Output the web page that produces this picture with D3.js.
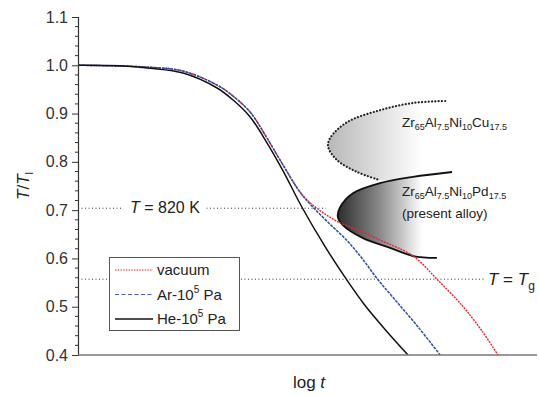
<!DOCTYPE html>
<html><head><meta charset="utf-8">
<script src="https://cdn.jsdelivr.net/npm/d3@7"></script>
<style>body{margin:0;background:#fff}svg{display:block;font-family:"Liberation Sans",Arial,sans-serif}</style>
</head><body><svg id="c" width="539" height="396"></svg>
<script>
// ---- data (x: arbitrary log t units, y: T/Tl) ----
const yTicks = [0.4,0.5,0.6,0.7,0.8,0.9,1.0,1.1];
const heLogT = [0,0.92,1.57,2.29,3.03,3.38,3.75,4.12,4.47,4.88,5.38,5.86,6.25,6.69,7.19];
const heT    = [1.0,0.999,0.994,0.984,0.953,0.928,0.893,0.839,0.781,0.706,0.625,0.555,0.503,0.453,0.40];
const arLogT = [0,1.57,2.29,3.03,3.38,3.75,4.12,4.47,4.84,5.12,5.49,5.86,6.19,6.51,6.91,7.41,7.89];
const arT    = [1.0,0.996,0.988,0.959,0.936,0.903,0.849,0.793,0.737,0.706,0.671,0.637,0.600,0.559,0.514,0.458,0.40];
const vacLogT = [0,1.57,2.29,3.03,3.38,3.75,4.12,4.47,4.84,5.12,5.38,5.66,6.14,6.58,7.30,7.84,8.26,8.47,8.80,9.15];
const vacT    = [1.0,0.996,0.988,0.959,0.936,0.903,0.849,0.793,0.737,0.710,0.692,0.676,0.657,0.638,0.605,0.555,0.514,0.491,0.450,0.40];
const cuLogT = [8.00,7.30,6.58,5.86,5.49,5.45,5.64,6.08,6.58];
const cuT    = [0.926,0.922,0.907,0.882,0.849,0.831,0.804,0.779,0.762];
const pdLogT = [8.15,7.30,6.58,5.99,5.71,5.66,5.77,6.21,6.80,7.30,7.82];
const pdT    = [0.779,0.769,0.756,0.735,0.706,0.686,0.669,0.642,0.622,0.605,0.601];
const T820 = 0.704, Tg = 0.557;
const legendNames = ["vacuum","Ar-10","He-10"];

const svg = d3.select("#c");
const x = d3.scaleLinear().domain([0,10]).range([78,537]);
const y = d3.scaleLinear().domain([0.4,1.1]).range([355,17]);
const zip = (a,b)=>a.map((v,i)=>[v,b[i]]);
const line = d3.line().x(d=>x(d[0])).y(d=>y(d[1])).curve(d3.curveCatmullRom.alpha(0.5));
const region = pts => line(pts) + `L${x(9.5)},${y(pts[pts.length-1][1])}L${x(9.5)},${y(pts[0][1])}Z`;

// gradients
const defs = svg.append("defs");
const gCu = defs.append("linearGradient").attr("id","gcu").attr("gradientUnits","userSpaceOnUse")
  .attr("x1",x(5.45)).attr("x2",x(7.5)).attr("y1",0).attr("y2",0);
gCu.append("stop").attr("offset",0).attr("stop-color","#b8b8b8");
gCu.append("stop").attr("offset",1).attr("stop-color","#ffffff");
const gPd = defs.append("linearGradient").attr("id","gpd").attr("gradientUnits","userSpaceOnUse")
  .attr("x1",x(5.66)).attr("x2",x(7.5)).attr("y1",0).attr("y2",0);
gPd.append("stop").attr("offset",0).attr("stop-color","#2e2e2e");
gPd.append("stop").attr("offset",0.5).attr("stop-color","#8a8a8a");
gPd.append("stop").attr("offset",1).attr("stop-color","#ffffff");

// Cu region
const cu = zip(cuLogT,cuT);
svg.append("path").attr("d",region(cu)).attr("fill","url(#gcu)").attr("stroke","none");
svg.append("path").attr("d",line(cu)).attr("fill","none").attr("stroke","#222")
  .attr("stroke-width",2.2).attr("stroke-dasharray","0.1,3.2").attr("stroke-linecap","round");
// Pd region
const pd = zip(pdLogT,pdT);
svg.append("path").attr("d",region(pd)).attr("fill","url(#gpd)").attr("stroke","none");
svg.append("path").attr("d",line(pd)).attr("fill","none").attr("stroke","#111").attr("stroke-width",1.8);

// reference dotted lines
const ref = svg.append("g").attr("stroke","#333").attr("stroke-width",1).attr("stroke-dasharray","1,2.5");
ref.append("line").attr("x1",x(0)).attr("x2",x(0.95)).attr("y1",y(T820)).attr("y2",y(T820));
ref.append("line").attr("x1",x(2.8)).attr("x2",x(5.4)).attr("y1",y(T820)).attr("y2",y(T820));
ref.append("line").attr("x1",x(0)).attr("x2",x(0.65)).attr("y1",y(Tg)).attr("y2",y(Tg));
ref.append("line").attr("x1",x(3.55)).attr("x2",x(8.85)).attr("y1",y(Tg)).attr("y2",y(Tg));

// curves
svg.append("path").attr("d",line(zip(vacLogT,vacT))).attr("fill","none").attr("stroke","#e8262b")
  .attr("stroke-width",1.4).attr("stroke-dasharray","2,1");
svg.append("path").attr("d",line(zip(arLogT,arT))).attr("fill","none").attr("stroke","#2f4fa8")
  .attr("stroke-width",1.5).attr("stroke-dasharray","3,1");
svg.append("path").attr("d",line(zip(heLogT,heT))).attr("fill","none").attr("stroke","#111")
  .attr("stroke-width",1.5);

// axes
const yAxis = d3.axisLeft(y).tickValues(yTicks).tickFormat(d3.format(".1f")).tickSize(6).tickPadding(4);
const gy = svg.append("g").attr("transform",`translate(${x(0)},0)`).call(yAxis);
gy.select(".domain").attr("stroke","#333").attr("stroke-width",1.2);
gy.selectAll(".tick line").attr("stroke","#333");
gy.selectAll(".tick text").attr("font-size",16).attr("fill","#333").attr("font-family","Liberation Sans, Arial, sans-serif");
const minor = d3.range(0.4,1.1001,0.02).filter(v=>Math.abs(v*10-Math.round(v*10))>0.01);
svg.append("g").selectAll("line").data(minor).join("line")
  .attr("x1",x(0)-3).attr("x2",x(0)).attr("y1",d=>y(d)).attr("y2",d=>y(d)).attr("stroke","#333");
svg.append("line").attr("x1",x(0)).attr("x2",x(10)).attr("y1",y(0.4)).attr("y2",y(0.4))
  .attr("stroke","#777").attr("stroke-width",1.5);

// axis labels
svg.append("text").attr("x",309).attr("y",388).attr("text-anchor","middle").attr("font-size",17).attr("fill","#222")
  .html('log <tspan font-style="italic">t</tspan>');
svg.append("text").attr("transform","translate(29,186) rotate(-90)").attr("text-anchor","middle").attr("font-size",17).attr("fill","#222")
  .html('<tspan font-style="italic">T</tspan>/<tspan font-style="italic">T</tspan><tspan font-size="11" dy="4">l</tspan>');

// annotations
svg.append("text").attr("x",130).attr("y",y(T820)+5).attr("font-size",16).attr("fill","#222")
  .html('<tspan font-style="italic">T</tspan> = 820 K');
svg.append("text").attr("x",488).attr("y",y(Tg)+6).attr("font-size",17).attr("fill","#222")
  .html('<tspan font-style="italic">T</tspan> = <tspan font-style="italic">T</tspan><tspan font-size="12" dy="5">g</tspan>');
function alloy(xp, yp, parts){
  const t = svg.append("text").attr("x",xp).attr("y",yp).attr("font-size",13.5).attr("fill","#222");
  parts.forEach(([el,sub],i)=>{
    t.append("tspan").attr("dy",i===0?0:-3).text(el);
    t.append("tspan").attr("font-size",9).attr("dy",3).text(sub);
  });
}
alloy(x(7.06), y(0.872), [["Zr","65"],["Al","7.5"],["Ni","10"],["Cu","17.5"]]);
alloy(x(7.06), y(0.730), [["Zr","65"],["Al","7.5"],["Ni","10"],["Pd","17.5"]]);
svg.append("text").attr("x",x(7.06)).attr("y",y(0.684)).attr("font-size",13.5).attr("fill","#222").text("(present alloy)");

// legend
const lg = svg.append("g");
lg.append("rect").attr("x",109.5).attr("y",257.5).attr("width",130).attr("height",73)
  .attr("fill","#fff").attr("stroke","#555").attr("stroke-width",1);
const styles = [["#e8262b","1.5,1.2",1.2],["#4a63ad","4,2.5",1.2],["#111",null,1.3]];
legendNames.forEach((n,i)=>{
  const yy = 270 + i*24.5;
  const l = lg.append("line").attr("x1",115).attr("x2",153).attr("y1",yy).attr("y2",yy)
    .attr("stroke",styles[i][0]).attr("stroke-width",styles[i][2]);
  if(styles[i][1]) l.attr("stroke-dasharray",styles[i][1]);
  const t = lg.append("text").attr("x",157).attr("y",yy+5).attr("font-size",15).attr("fill","#222").text(n);
  if(i>0){ t.append("tspan").attr("font-size",10).attr("dy",-7).text("5"); t.append("tspan").attr("dy",7).text(" Pa"); }
});
</script></body></html>
